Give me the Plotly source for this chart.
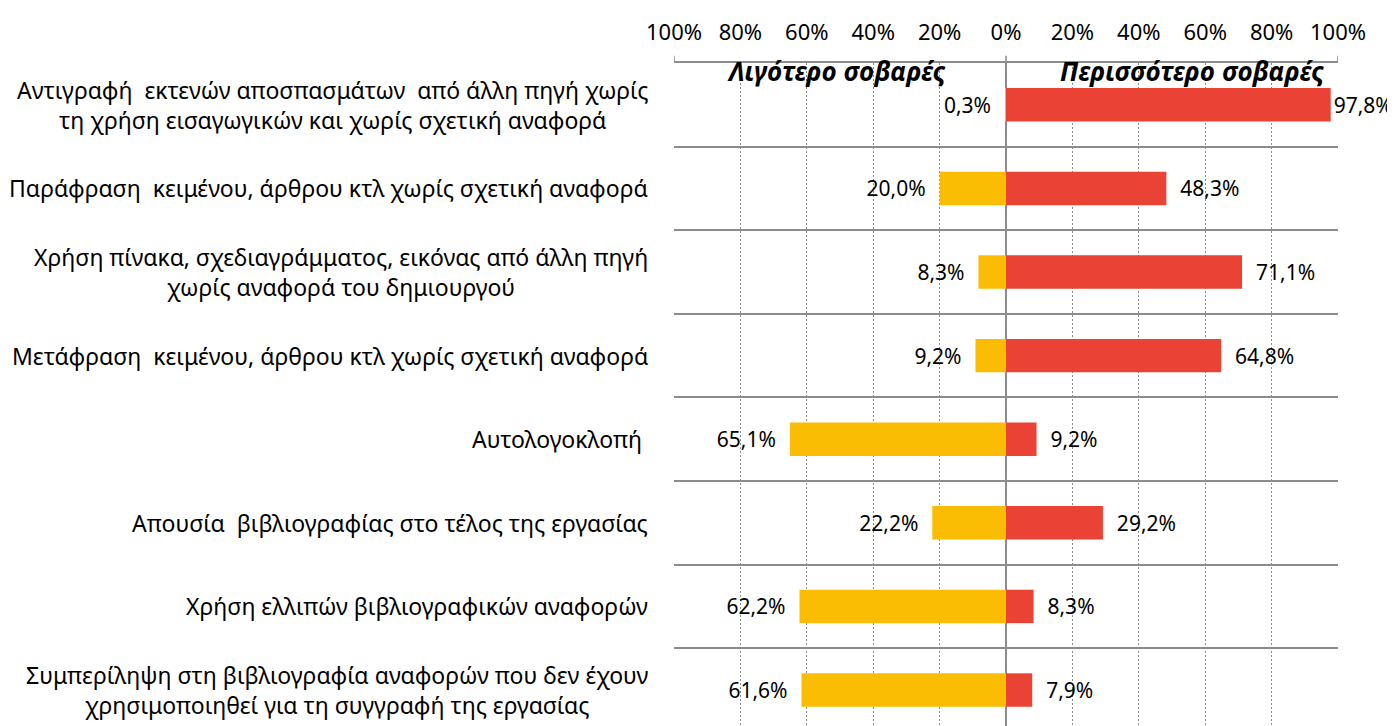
import plotly.graph_objects as go

categories = [
    "Αντιγραφή  εκτενών αποσπασμάτων  από άλλη πηγή χωρίς<br>τη χρήση εισαγωγικών και χωρίς σχετική αναφορά",
    "Παράφραση  κειμένου, άρθρου κτλ χωρίς σχετική αναφορά",
    "Χρήση πίνακα, σχεδιαγράμματος, εικόνας από άλλη πηγή<br>χωρίς αναφορά του δημιουργού",
    "Μετάφραση  κειμένου, άρθρου κτλ χωρίς σχετική αναφορά",
    "Αυτολογοκλοπή ",
    "Απουσία  βιβλιογραφίας στο τέλος της εργασίας",
    "Χρήση ελλιπών βιβλιογραφικών αναφορών",
    "Συμπερίληψη στη βιβλιογραφία αναφορών που δεν έχουν<br>χρησιμοποιηθεί για τη συγγραφή της εργασίας",
]
less_serious = [0.3, 20.0, 8.3, 9.2, 65.1, 22.2, 62.2, 61.6]
more_serious = [97.8, 48.3, 71.1, 64.8, 9.2, 29.2, 8.3, 7.9]
tick_vals = [-100, -80, -60, -40, -20, 0, 20, 40, 60, 80, 100]
tick_text = [f"{abs(v)}%" for v in tick_vals]

FONT = "Noto Sans"
YELLOW = "#FBBC04"
RED = "#EA4335"
GRID = "#8C8C8C"
PAD = "\u00a0\u00a0"


def fmt(v):
    return f"{v:.1f}%".replace(".", ",")


idx = list(range(len(categories)))

fig = go.Figure()
fig.add_trace(go.Bar(
    y=idx, x=[-v for v in less_serious], orientation="h",
    marker=dict(color=YELLOW, line=dict(width=0)), width=0.4,
    text=[fmt(v) + PAD for v in less_serious], textposition="outside",
    constraintext="none", cliponaxis=False,
    textfont=dict(family=FONT, size=21, color="#000"),
    name="Λιγότερο σοβαρές",
))
fig.add_trace(go.Bar(
    y=idx, x=more_serious, orientation="h",
    marker=dict(color=RED, line=dict(width=0)), width=0.4,
    # no room for padding next to the near-full bar
    text=[(PAD if v < 90 else "") + fmt(v) for v in more_serious], textposition="outside",
    constraintext="none", cliponaxis=False,
    textfont=dict(family=FONT, size=21, color="#000"),
    name="Περισσότερο σοβαρές",
))

# category labels, centred lines, right aligned to the plot
for i, c in zip(idx, categories):
    fig.add_annotation(
        x=0, xref="paper", xanchor="right", xshift=-24,
        y=i, yref="y", yanchor="middle",
        text=c, showarrow=False, align="center",
        font=dict(family=FONT, size=23, color="#000"),
    )

# headers
fig.add_annotation(x=-51, xref="x", y=1, yref="paper", yshift=-8, yanchor="middle",
                   text="<b><i>Λιγότερο σοβαρές</i></b>", showarrow=False,
                   font=dict(family=FONT, size=26, color="#000"))
fig.add_annotation(x=56, xref="x", y=1, yref="paper", yshift=-8, yanchor="middle",
                   text="<b><i>Περισσότερο σοβαρές</i></b>", showarrow=False,
                   font=dict(family=FONT, size=26, color="#000"))

# short tick marks above the top line
for t in [-100, 0, 100]:
    fig.add_shape(type="line", x0=t, x1=t, xref="x", y0=1, y1=1.011, yref="paper",
                  line=dict(color=GRID, width=1.5))

fig.update_layout(
    width=1387, height=718,
    margin=dict(l=666, r=57, t=55, b=0),
    barmode="overlay",
    showlegend=False,
    plot_bgcolor="white", paper_bgcolor="white",
    font=dict(family=FONT, size=22, color="#000"),
)
fig.update_xaxes(
    side="top", range=[-100, 100], tickvals=tick_vals, ticktext=tick_text,
    tickfont=dict(family=FONT, size=22, color="#000"), ticklabelstandoff=12,
    showgrid=True, gridcolor=GRID, gridwidth=1, griddash="2px,2px",
    zeroline=True, zerolinecolor=GRID, zerolinewidth=2,
    showline=True, linecolor=GRID, linewidth=2, ticks="",
)
fig.update_yaxes(
    range=[7.43, -0.5], tickvals=[i - 0.5 for i in range(len(categories) + 1)],
    showticklabels=False, showgrid=True, gridcolor=GRID, gridwidth=2,
    zeroline=False, showline=False, ticks="",
)

fig.write_html("out.html")
